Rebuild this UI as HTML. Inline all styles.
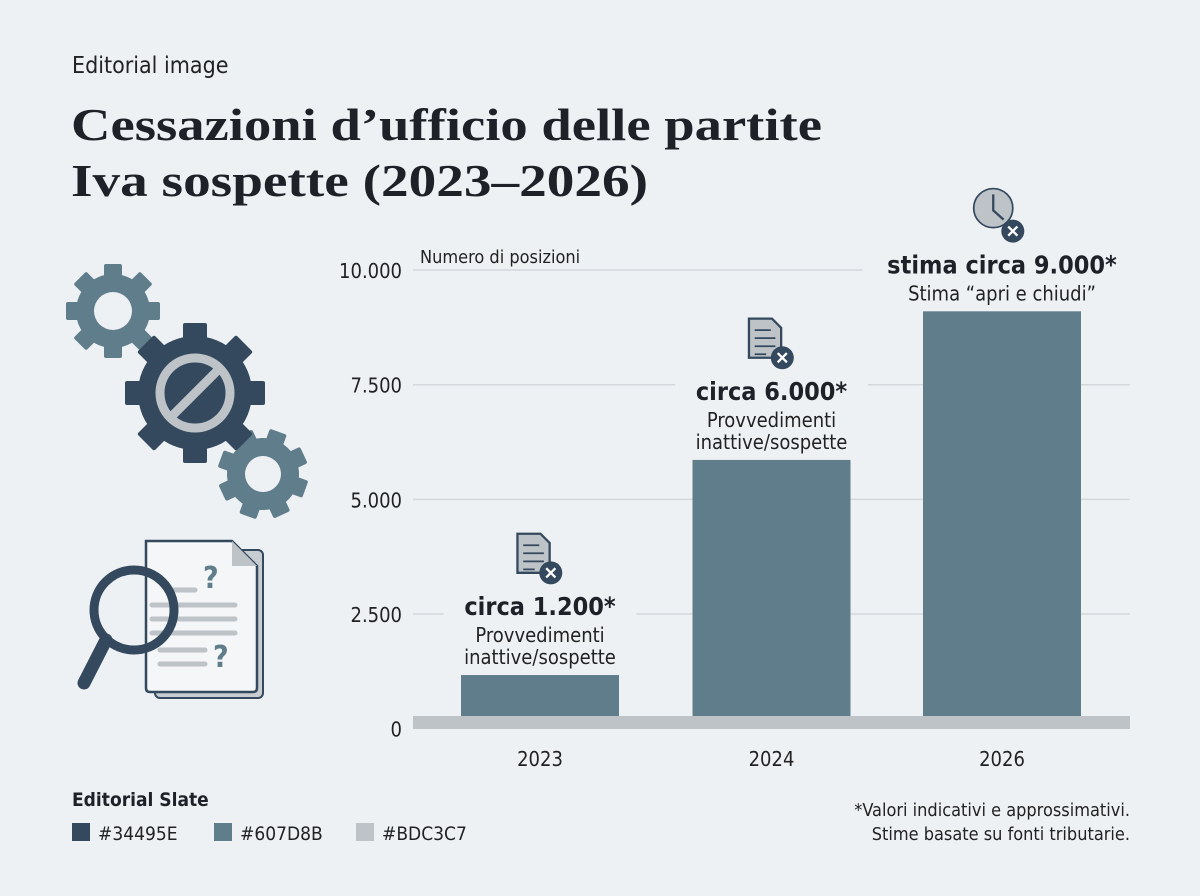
<!DOCTYPE html>
<html><head><meta charset="utf-8"><style>
body{margin:0;background:#eef1f4;}
svg{display:block}
.s{font-family:"DejaVu Sans Condensed","Liberation Sans",sans-serif;}
</style></head><body>
<svg width="1200" height="896" viewBox="0 0 1200 896" xmlns="http://www.w3.org/2000/svg">
<rect width="1200" height="896" fill="#eef1f4"/>
<text x="72" y="73" class="s" font-size="23" fill="#222">Editorial image</text>
<text x="71" y="140" font-family="Liberation Serif,serif" font-weight="bold" font-size="46" fill="#1e2228" textLength="751" lengthAdjust="spacingAndGlyphs">Cessazioni d’ufficio delle partite</text>
<text x="71" y="196" font-family="Liberation Serif,serif" font-weight="bold" font-size="46" fill="#1e2228" textLength="577" lengthAdjust="spacingAndGlyphs">Iva sospette (2023–2026)</text>

<g>
<g transform="translate(113,311)">
<circle r="37" fill="#607d8b"/>
<g fill="#607d8b"><rect x="-9" y="-47" width="18" height="94" rx="2"/><rect x="-9" y="-47" width="18" height="94" rx="2" transform="rotate(45)"/><rect x="-9" y="-47" width="18" height="94" rx="2" transform="rotate(90)"/><rect x="-9" y="-47" width="18" height="94" rx="2" transform="rotate(135)"/></g>
<circle r="19" fill="#eef1f4"/></g>
<g transform="translate(263,474) rotate(20)">
<circle r="36" fill="#607d8b"/>
<g fill="#607d8b"><rect x="-9" y="-45" width="18" height="90" rx="2"/><rect x="-9" y="-45" width="18" height="90" rx="2" transform="rotate(45)"/><rect x="-9" y="-45" width="18" height="90" rx="2" transform="rotate(90)"/><rect x="-9" y="-45" width="18" height="90" rx="2" transform="rotate(135)"/></g>
<circle r="18" fill="#eef1f4"/></g>
<g transform="translate(195,393)">
<circle r="57" fill="#34495e"/>
<g fill="#34495e"><rect x="-12" y="-70" width="24" height="140" rx="2"/><rect x="-12" y="-70" width="24" height="140" rx="2" transform="rotate(45)"/><rect x="-12" y="-70" width="24" height="140" rx="2" transform="rotate(90)"/><rect x="-12" y="-70" width="24" height="140" rx="2" transform="rotate(135)"/></g>
<circle r="35" fill="none" stroke="#bdc3c7" stroke-width="9"/>
<line x1="-24" y1="24" x2="24" y2="-24" stroke="#bdc3c7" stroke-width="9"/></g>
</g>

<g>
<rect x="155" y="550" width="108" height="148" rx="5" fill="#c8cdd2" stroke="#34495e" stroke-width="2"/>
<path d="M146 541 H232 L257 566 V688 Q257 692 253 692 H150 Q146 692 146 688 Z" fill="#f4f6f8" stroke="#34495e" stroke-width="2.5"/>
<path d="M232 541 V566 H257 Z" fill="#bdc3c7"/>
<g stroke="#bdc3c7" stroke-width="5" stroke-linecap="round"><line x1="170" y1="590" x2="195" y2="590"/><line x1="152" y1="605" x2="235" y2="605"/><line x1="152" y1="619" x2="235" y2="619"/><line x1="152" y1="633" x2="235" y2="633"/><line x1="160" y1="650" x2="205" y2="650"/><line x1="160" y1="664" x2="205" y2="664"/></g>
<text x="203" y="588" class="s" font-weight="bold" font-size="30" fill="#607d8b">?</text>
<text x="213" y="667" class="s" font-weight="bold" font-size="30" fill="#607d8b">?</text>
<circle cx="134" cy="610" r="40" fill="none" stroke="#34495e" stroke-width="9"/>
<line x1="106" y1="640" x2="84" y2="683" stroke="#34495e" stroke-width="13" stroke-linecap="round"/>
</g>

<g id="chart"></g>

<text x="72" y="806" class="s" font-weight="bold" font-size="19" fill="#1e2228">Editorial Slate</text>
<g class="s" font-size="19" fill="#222">
<rect x="72" y="823" width="18" height="18" fill="#34495e"/><text x="98" y="840">#34495E</text>
<rect x="214" y="823" width="18" height="18" fill="#607d8b"/><text x="240" y="840">#607D8B</text>
<rect x="356" y="823" width="18" height="18" fill="#bdc3c7"/><text x="382" y="840">#BDC3C7</text>
</g>
<text x="1130" y="816" text-anchor="end" class="s" font-size="18" fill="#222">*Valori indicativi e approssimativi.</text>
<text x="1130" y="840" text-anchor="end" class="s" font-size="18" fill="#222">Stime basate su fonti tributarie.</text>
</svg>
<script>
const categories=["2023","2024","2026"];
const values=[1170,5860,9100];
const labels=["circa 1.200*","circa 6.000*","stima circa 9.000*"];
const sublabels=[["Provvedimenti","inattive/sospette"],["Provvedimenti","inattive/sospette"],["Stima “apri e chiudi”"]];
const ticks=[0,2500,5000,7500,10000];
const tickLabels=["0","2.500","5.000","7.500","10.000"];
const NS="http://www.w3.org/2000/svg";
const g=document.getElementById('chart');
const y0=728.7,pxPer=344/7500;
const y=v=>y0-v*pxPer;
const xL=413,xR=1130,bw=158;
const centers=[540,771.5,1002];
const x=i=>centers[i];
function mk(t,a,p){const e=document.createElementNS(NS,t);for(const k in a)e.setAttribute(k,a[k]);(p||g).appendChild(e);return e;}
ticks.forEach((t,i)=>{
 if(t>0){const l=mk('line',{x1:xL,x2:xR,y1:y(t),y2:y(t),stroke:'#d3d8dc','stroke-width':1.5});
 
 }
 const tx=mk('text',{x:402,y:y(t)+8,'text-anchor':'end','font-size':20,fill:'#222',class:'s'});
 tx.textContent=tickLabels[i];
 
 
});
const yt=mk('text',{x:420,y:263,'font-size':18,fill:'#222',class:'s'});
yt.textContent="Numero di posizioni";


categories.forEach((c,i)=>{
 const top=y(values[i]);
 const r=mk('rect',{x:x(i)-bw/2,y:top,width:bw,height:y0-top,fill:'#607d8b'});
 
 
 const cx=mk('text',{x:x(i),y:766,'text-anchor':'middle','font-size':20,fill:'#222',class:'s'});
 cx.textContent=c;
 
 
 const n=sublabels[i].length;
 const subBase=top-11-(n-1)*22;
 for(let k=0;k<n;k++){
  const s=mk('text',{x:x(i),y:subBase+k*22,'text-anchor':'middle','font-size':20,fill:'#222',class:'s'});
  s.textContent=sublabels[i][k];
  
  
 }
 const mBase=subBase-27;
 const bg=mk('rect',{x:x(i)-(labels[i].length*7.2)-10,y:mBase-24,width:labels[i].length*14.4+20,height:30,fill:'#eef1f4'});
 
 
 g.insertBefore(bg,r);
 const m=mk('text',{x:x(i),y:mBase,'text-anchor':'middle','font-size':25,'font-weight':'bold',fill:'#1e2228',class:'s'});
 m.textContent=labels[i];
 
 
 const ic=mk('g',{transform:'translate('+(x(i)-3)+','+(mBase-56)+') scale(1.15)'});
 
 
 if(i<2){
  mk('path',{d:'M-17 -22 H3 L11 -14 V12 H-17 Z',fill:'#bdc3c7',stroke:'#34495e','stroke-width':2},ic);
  mk('path',{d:'M-12 -12 H2 M-12 -5 H6 M-12 2 H6 M-12 9 H-2',stroke:'#34495e','stroke-width':1.5},ic);
 }else{
  mk('circle',{cx:-5,cy:-8,r:17,fill:'#bdc3c7',stroke:'#34495e','stroke-width':1.5},ic);
  mk('path',{d:'M-5 -20 V-6 L4 2',stroke:'#34495e','stroke-width':2,fill:'none'},ic);
 }
 mk('circle',{cx:12,cy:12,r:10,fill:'#34495e'},ic);
 mk('path',{d:'M8 8 L16 16 M16 8 L8 16',stroke:'#fff','stroke-width':2},ic);
});
const base=mk('rect',{x:xL,y:716,width:xR-xL,height:13,fill:'#bdc3c7'});


</script>
</body></html>
